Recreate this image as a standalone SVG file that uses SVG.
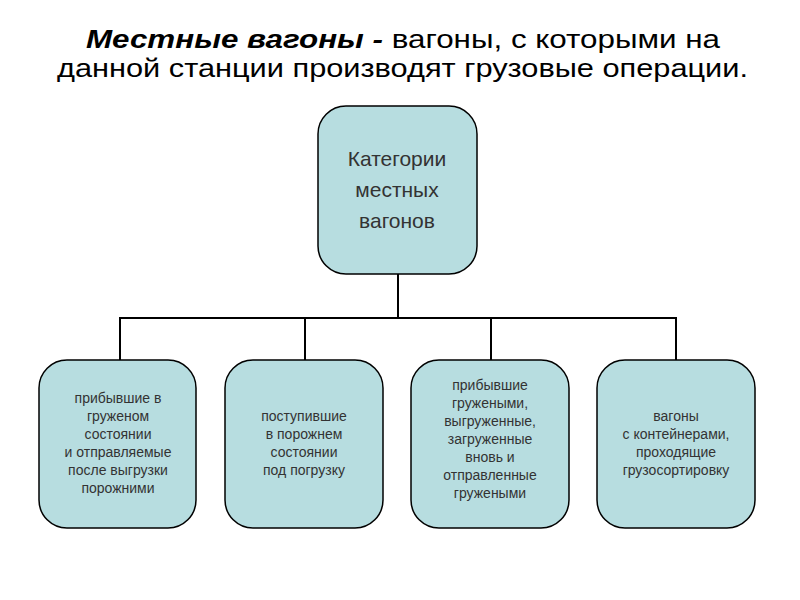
<svg xmlns="http://www.w3.org/2000/svg" width="800" height="600" viewBox="0 0 800 600">
<style>
.box{fill:#b7dde0;stroke:#000;stroke-width:1.5}
.t{font-family:"Liberation Sans",Arial,sans-serif;font-size:14px;fill:#333;text-anchor:middle}
.big{font-family:"Liberation Sans",Arial,sans-serif;font-size:21px;fill:#333;text-anchor:middle}
.ttl{font-family:"Liberation Sans",Arial,sans-serif;font-size:26px;fill:#000}
line{stroke:#000;stroke-width:2}
</style>
<rect width="800" height="600" fill="#fff"/>
<text class="ttl" x="86" y="48" textLength="634" lengthAdjust="spacingAndGlyphs"><tspan font-weight="bold" font-style="italic">Местные  вагоны - </tspan>вагоны, с которыми на</text>
<text class="ttl" x="57" y="77" textLength="691" lengthAdjust="spacingAndGlyphs">данной станции производят грузовые операции.</text>
<g id="connectors">
<line x1="398" y1="274" x2="398" y2="318"/>
<line x1="119" y1="318" x2="677" y2="318"/>
<line x1="120" y1="317" x2="120" y2="360"/>
<line x1="305" y1="317" x2="305" y2="360"/>
<line x1="491" y1="317" x2="491" y2="360"/>
<line x1="676" y1="317" x2="676" y2="360"/>
</g>
<g id="root"><rect class="box" x="318" y="106" width="159" height="168" rx="28"/>
<text class="big" x="397" y="166">Категории</text><text class="big" x="397" y="197">местных</text><text class="big" x="397" y="228">вагонов</text></g>
<g id="n1"><rect class="box" x="39" y="360" width="157" height="168" rx="28"/>
<text class="t"><tspan x="118" y="403">прибывшие в</tspan><tspan x="118" y="421">груженом</tspan><tspan x="118" y="439">состоянии</tspan><tspan x="118" y="457">и отправляемые</tspan><tspan x="118" y="475">после выгрузки</tspan><tspan x="118" y="493">порожними</tspan></text></g>
<g id="n2"><rect class="box" x="225" y="360" width="158" height="168" rx="28"/>
<text class="t"><tspan x="304" y="421">поступившие</tspan><tspan x="304" y="439">в порожнем</tspan><tspan x="304" y="457">состоянии</tspan><tspan x="304" y="475">под погрузку</tspan></text></g>
<g id="n3"><rect class="box" x="411" y="360" width="158" height="168" rx="28"/>
<text class="t"><tspan x="490" y="390">прибывшие</tspan><tspan x="490" y="408">гружеными,</tspan><tspan x="490" y="426">выгруженные,</tspan><tspan x="490" y="444">загруженные</tspan><tspan x="490" y="462">вновь и</tspan><tspan x="490" y="480">отправленные</tspan><tspan x="490" y="498">гружеными</tspan></text></g>
<g id="n4"><rect class="box" x="597" y="360" width="158" height="168" rx="28"/>
<text class="t"><tspan x="676" y="421">вагоны</tspan><tspan x="676" y="439">с контейнерами,</tspan><tspan x="676" y="457">проходящие</tspan><tspan x="676" y="475">грузосортировку</tspan></text></g>
</svg>
